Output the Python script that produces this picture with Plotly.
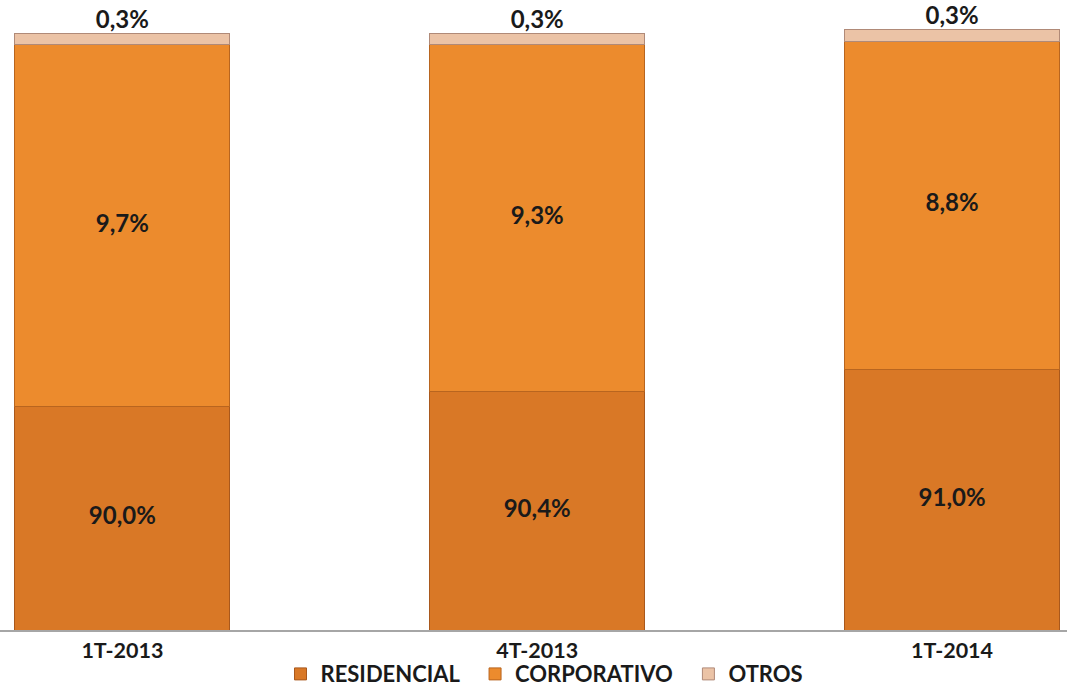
import plotly.graph_objects as go

categories = ["1T-2013", "4T-2013", "1T-2014"]
residencial = [90.0, 90.4, 91.0]
corporativo = [9.7, 9.3, 8.8]
otros = [0.3, 0.3, 0.3]
series_names = ["RESIDENCIAL", "CORPORATIVO", "OTROS"]

AXIS_MIN = 84.0
AXIS_MAX = 100.5

colors = ["#D97826", "#EC8B2D", "#EBC3A6"]
edges = ["#A9581C", "#B8651F", "#B08A78"]

FONT = "Lato, 'Open Sans', 'DejaVu Sans', sans-serif"


def fmt(v):
    return f"{v:.1f}".replace(".", ",") + "%"


x_idx = list(range(len(categories)))

fig = go.Figure()
for name, vals, c, e in zip(series_names, [residencial, corporativo, otros], colors, edges):
    fig.add_trace(go.Bar(
        x=x_idx, y=vals, name=name + "\u00a0\u00a0",
        marker=dict(color=c, line=dict(color=e, width=1)),
        width=0.518,
        hoverinfo="skip",
    ))

# data labels
lab_x, lab_y, lab_t = [], [], []
for i in x_idx:
    r, c = residencial[i], corporativo[i]
    lab_x += [i, i]
    lab_y += [(max(AXIS_MIN, 0) + r) / 2, r + c / 2]
    lab_t += [fmt(r), fmt(c)]
fig.add_trace(go.Scatter(
    x=lab_x, y=lab_y, text=lab_t, mode="text",
    textfont=dict(family=FONT, size=24, color="#1a1a1a", weight="bold"),
    showlegend=False, hoverinfo="skip", cliponaxis=False,
))
tot = [residencial[i] + corporativo[i] + otros[i] for i in x_idx]
fig.add_trace(go.Scatter(
    x=x_idx, y=tot, text=[fmt(v) for v in otros], mode="text",
    textposition="top center",
    textfont=dict(family=FONT, size=24, color="#1a1a1a", weight="bold"),
    showlegend=False, hoverinfo="skip", cliponaxis=False,
))

fig.update_layout(
    width=1067, height=688,
    barmode="stack",
    margin=dict(l=0, r=0, t=15, b=58, autoexpand=False),
    paper_bgcolor="white", plot_bgcolor="white",
    showlegend=True,
    legend=dict(
        orientation="h", x=0.515, xanchor="center", y=-0.0717, yanchor="middle",
        traceorder="normal", bgcolor="rgba(0,0,0,0)",
        font=dict(family=FONT, size=22, color="#1a1a1a", weight="bold"),
        itemwidth=30,
    ),
    xaxis=dict(
        tickmode="array", tickvals=x_idx, ticktext=categories,
        range=[-0.295, 2.277],
        showgrid=False, zeroline=False,
        showline=True, linecolor="#A6A6A6", linewidth=1.5,
        ticks="", ticklabelstandoff=0,
        tickfont=dict(family=FONT, size=21.5, color="#1a1a1a", weight="bold"),
    ),
    yaxis=dict(
        range=[AXIS_MIN, AXIS_MAX], visible=False,
        showgrid=False, zeroline=False,
    ),
)

fig.write_html(
    "out.html",
    config={"displayModeBar": False},
    post_script="document.body.style.margin='0';document.body.style.overflow='hidden';",
)
